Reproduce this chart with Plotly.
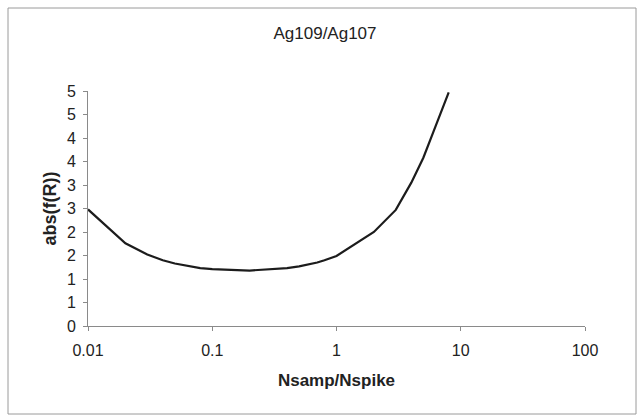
import plotly.graph_objects as go

# Sample/spike ratio and the corresponding error magnification factor
ratio = [0.01, 0.02, 0.03, 0.04, 0.05, 0.06, 0.07, 0.08, 0.09, 0.1,
         0.2, 0.3, 0.4, 0.5, 0.6, 0.7, 0.8, 0.9, 1,
         2, 3, 4, 5, 6, 7, 8]
abs_f = [2.48, 1.76, 1.52, 1.40, 1.33, 1.29, 1.26, 1.23, 1.22, 1.21,
         1.18, 1.20, 1.23, 1.27, 1.31, 1.35, 1.40, 1.44, 1.49,
         2.00, 2.47, 3.05, 3.58, 4.12, 4.57, 4.97]

x_ticks = [0.01, 0.1, 1, 10, 100]
x_tick_text = ["0.01", "0.1", "1", "10", "100"]
y_ticks = [0, 0.5, 1, 1.5, 2, 2.5, 3, 3.5, 4, 4.5, 5]
y_tick_text = ["0", "1", "1", "2", "2", "3", "3", "4", "4", "5", "5"]

W, H = 637, 419
ml, mr, mt, mb = 88, 52, 91, 93
pw, ph = W - ml - mr, H - mt - mb

fig = go.Figure()
fig.add_trace(go.Scatter(
    x=ratio, y=abs_f, mode="lines",
    line=dict(color="#1c1c1c", width=2.2),
    showlegend=False, hoverinfo="skip",
))

font = "Liberation Sans, Arial, sans-serif"
axis_color = "#8a8a8a"

fig.update_layout(
    width=W, height=H,
    margin=dict(l=ml, r=mr, t=mt, b=mb),
    paper_bgcolor="white", plot_bgcolor="white",
    font=dict(family=font, size=16, color="#222222"),
    title=dict(text="Ag109/Ag107", x=(325 - ml) / pw, xref="paper",
               xanchor="center", y=1 - 33 / H, yanchor="middle",
               font=dict(size=17, color="#222222")),
    xaxis=dict(
        type="log", range=[-2, 2],
        tickvals=x_ticks, ticktext=x_tick_text,
        showgrid=False, zeroline=False,
        showline=True, linecolor=axis_color, linewidth=1,
        ticks="outside", ticklen=4, tickcolor=axis_color,
        tickfont=dict(size=16), ticklabelstandoff=6,
        title=dict(text="<b>Nsamp/Nspike</b>", font=dict(size=17), standoff=15),
    ),
    yaxis=dict(
        range=[0, 5],
        tickvals=y_ticks, ticktext=y_tick_text,
        showgrid=False, zeroline=False,
        showline=True, linecolor=axis_color, linewidth=1,
        ticks="outside", ticklen=4, tickcolor=axis_color,
        tickfont=dict(size=16), ticklabelstandoff=4,
        title=dict(text="<b>abs(f(R))</b>", font=dict(size=18), standoff=5),
    ),
)

# Chart-area frame
fig.add_shape(
    type="rect", xref="paper", yref="paper",
    x0=(8 - ml) / pw, x1=(636 - ml) / pw,
    y0=(H - mb - 414) / ph, y1=(H - mb - 8) / ph,
    line=dict(color="#9a9a9a", width=1), layer="below",
)

fig.write_html("out.html")
